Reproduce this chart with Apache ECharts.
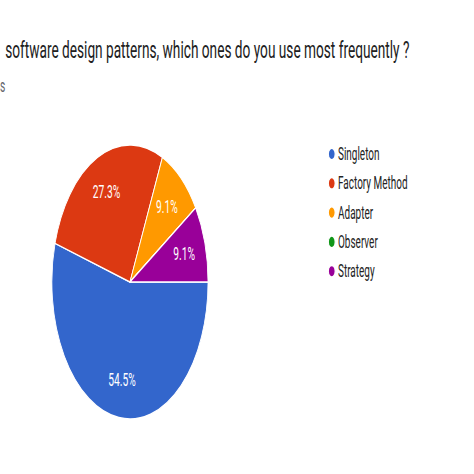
<!DOCTYPE html>
<html>
<head>
<meta charset="utf-8">
<script src="https://cdn.jsdelivr.net/npm/echarts@6/dist/echarts.min.js"></script>
<style>
  html, body { margin: 0; padding: 0; background: #fff; overflow: hidden; }
  /* the reference is squeezed sideways, so draw wide and squeeze */
  #chart { width: 832px; height: 474px; transform: scaleX(0.57); transform-origin: 0 0; }
</style>
</head>
<body>
<div id="chart"></div>
<script>
var categories = ['Singleton', 'Factory Method', 'Adapter', 'Observer', 'Strategy'];
var counts = [6, 3, 1, 0, 1];
var colors = ['#3366cc', '#dc3912', '#ff9900', '#109618', '#990099'];
var titleText = 'software design patterns, which ones do you use most frequently ?';
var subText = 's';

var myChart = echarts.init(document.getElementById('chart'), null, { renderer: 'svg' });

var pieData = categories.map(function (name, i) {
  return { name: name, value: counts[i] };
});

var option = {
  backgroundColor: '#fff',
  color: colors,
  textStyle: { fontFamily: 'Roboto' },
  title: [
    {
      text: titleText,
      left: 9,
      top: 38,
      padding: 0,
      textStyle: { fontSize: 24, fontWeight: 'normal', color: '#212121', fontFamily: 'Roboto' }
    },
    {
      text: subText,
      left: 0,
      top: 77,
      padding: 0,
      textStyle: { fontSize: 18, fontWeight: 'normal', color: '#5f6368', fontFamily: 'Roboto' }
    }
  ],
  legend: {
    orient: 'vertical',
    left: 575,
    top: 144,
    icon: 'circle',
    itemWidth: 12,
    itemHeight: 12,
    itemGap: 9.3,
    selectedMode: false,
    padding: 0,
    data: categories,
    textStyle: { fontSize: 17.5, lineHeight: 20, color: '#222', fontFamily: 'Roboto' }
  },
  series: [
    {
      type: 'pie',
      center: [228, 282],
      radius: [0, 137],
      startAngle: 0,
      clockwise: true,
      silent: true,
      label: { show: false },
      labelLine: { show: false },
      itemStyle: { borderColor: '#fff', borderWidth: 1.5 },
      data: pieData
    },
    {
      // transparent ring only to put the percent labels at ~0.7 of the radius
      type: 'pie',
      z: 3,
      center: [228, 282],
      radius: [55, 137],
      startAngle: 0,
      clockwise: true,
      silent: true,
      percentPrecision: 1,
      itemStyle: { color: 'rgba(0,0,0,0)', borderWidth: 0 },
      label: {
        show: true,
        position: 'inside',
        color: '#fff',
        fontSize: 18,
        fontFamily: 'Roboto',
        formatter: function (p) { return p.value ? p.percent + '%' : ''; }
      },
      labelLine: { show: false },
      data: pieData
    }
  ]
};

myChart.setOption(option);
</script>
</body>
</html>
